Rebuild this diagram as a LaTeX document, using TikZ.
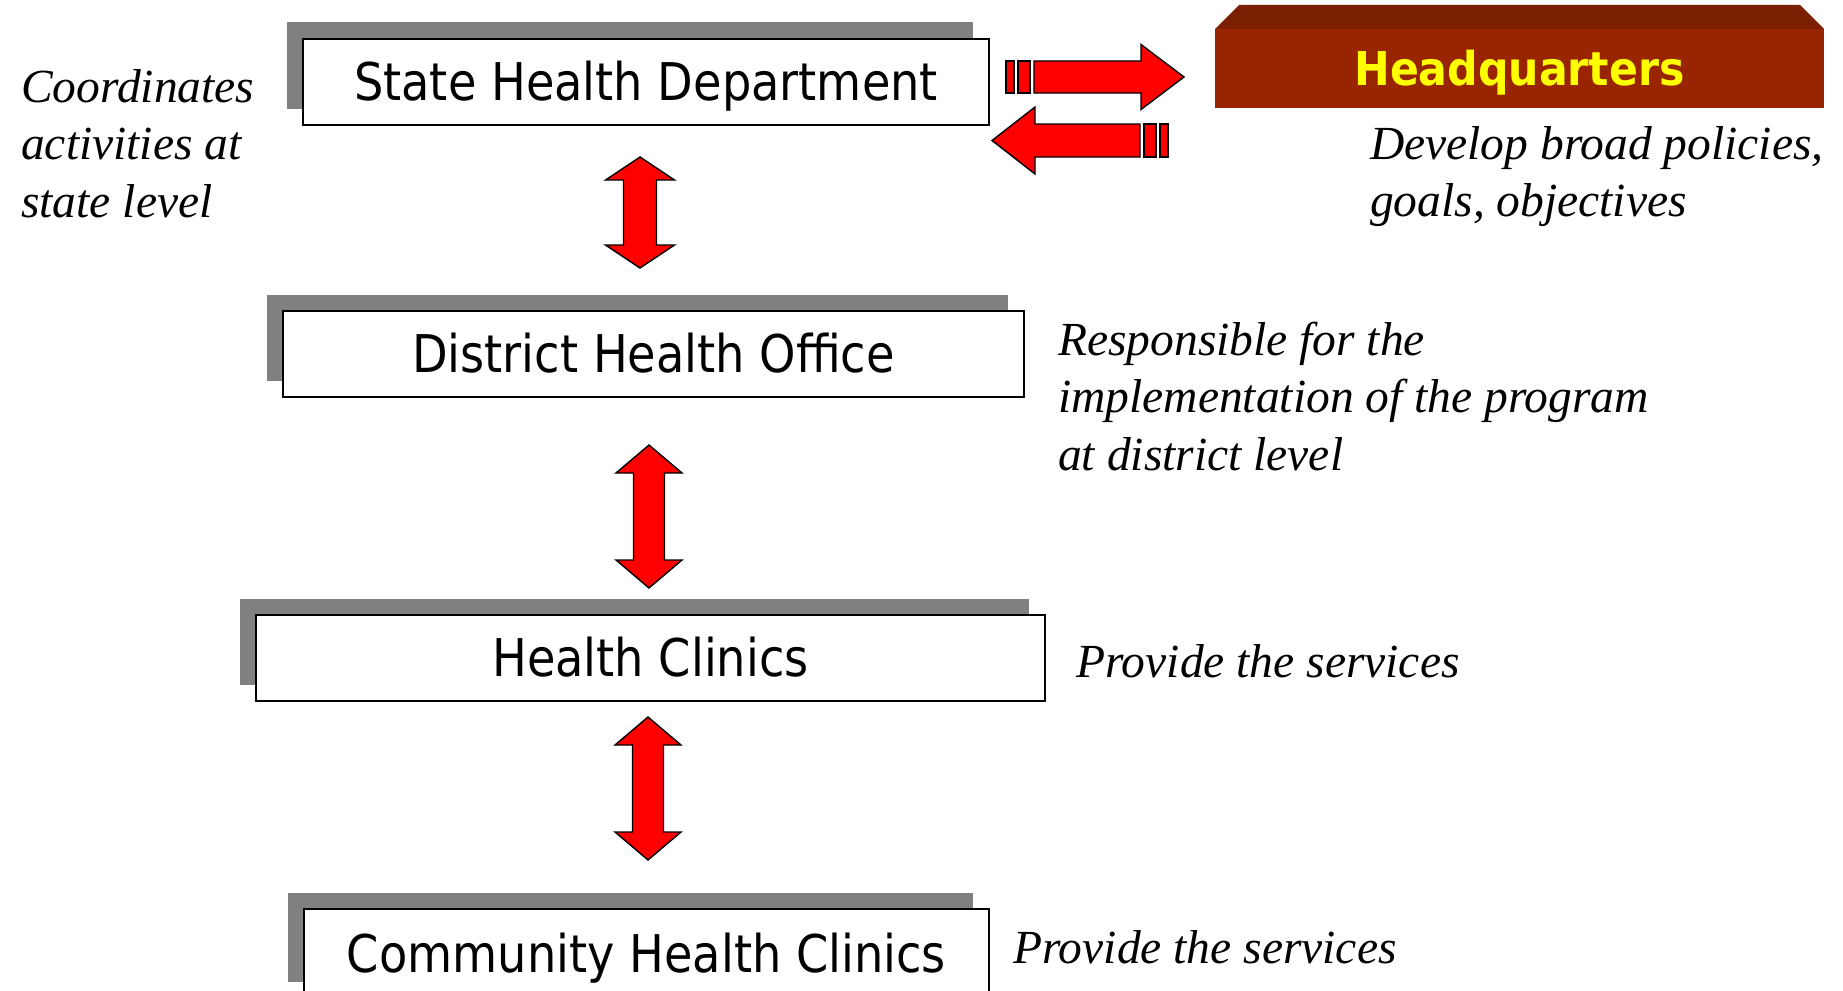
\documentclass[tikz,border=0pt]{standalone}
\usepackage{fontspec}
\setmainfont{Liberation Serif}
\newfontfamily\boxfont[FakeStretch=0.89]{DejaVu Sans}
\newfontfamily\hqfont[FakeStretch=0.915]{DejaVu Sans Bold}
\usetikzlibrary{calc,shadows}

\definecolor{shadowgray}{HTML}{808080}
\definecolor{hqfront}{HTML}{992400}
\definecolor{hqtop}{HTML}{7A1F00}
\definecolor{hqtext}{HTML}{FFFF00}

\tikzset{
  level/.style={draw=black, line width=1.6pt, fill=white, inner sep=0pt, outer sep=0pt,
    anchor=north west, font=\boxfont\fontsize{52}{60}\selectfont,
    text height=37.9pt, text depth=0pt,
    copy shadow={shadow xshift=-16.5pt, shadow yshift=16.5pt, fill=shadowgray, draw=none}},
  bigarrow/.style={fill=red, draw=black, line width=1.4pt, line join=miter},
  note/.style={font=\itshape\fontsize{47.5}{57.5}\selectfont, inner sep=0pt, anchor=base west},
  hqbox/.style={fill=hqfront, inner sep=0pt, outer sep=0pt, anchor=north west,
    font=\hqfont\fontsize{46.6}{50}\selectfont, text=hqtext, text height=34pt, text depth=0pt},
}

% vertical double-headed block arrow: top, bottom, head length, shaft half width, head half width
\newcommand\vbiarrow[5]{%
  \draw[bigarrow] (#1) -- ($(#1)+(#5,#3)$) -- ($(#1)+(#4,#3)$) -- ($(#2)+(#4,-#3)$)
    -- ($(#2)+(#5,-#3)$) -- (#2) -- ($(#2)+(-#5,-#3)$) -- ($(#2)+(-#4,-#3)$)
    -- ($(#1)+(-#4,#3)$) -- ($(#1)+(-#5,#3)$) -- cycle;}

% striped block arrow: tail, tip, direction (1 or -1), shaft half width, head half width
\newcommand\stripedarrow[5]{%
  \draw[bigarrow] ($(#1)+(0,-#4)$) rectangle ($(#1)+({(#3)*8},#4)$);
  \draw[bigarrow] ($(#1)+({(#3)*12},-#4)$) rectangle ($(#1)+({(#3)*24},#4)$);
  \draw[bigarrow] ($(#1)+({(#3)*28},-#4)$) -- ($(#2)+({-(#3)*43},-#4)$)
    -- ($(#2)+({-(#3)*43},-#5)$) -- (#2) -- ($(#2)+({-(#3)*43},#5)$)
    -- ($(#2)+({-(#3)*43},#4)$) -- ($(#1)+({(#3)*28},#4)$) -- cycle;}

\begin{document}
\begin{tikzpicture}[x=1pt, y=-1pt]
  \useasboundingbox (0,0) rectangle (1843,990);

  % hierarchy of offices
  \node[level, minimum width=686pt, minimum height=86pt] (state) at (303,39) {State Health Department};
  \node[level, minimum width=741pt, minimum height=86pt] (district) at (283,311) {District Health Office};
  \node[level, minimum width=789pt, minimum height=86pt] (clinics) at (256,615) {Health Clinics};
  \node[level, minimum width=685pt, minimum height=89pt] (community) at (304,909) {Community Health Clinics};

  % headquarters block with bevelled top
  \node[hqbox, minimum width=609pt, minimum height=79pt] (hq) at (1215,29) {Headquarters};
  \fill[hqtop] (hq.north west) -- ++(24,-24) -- ($(hq.north east)+(-24,-24)$) -- (hq.north east) -- cycle;

  % links between levels
  \coordinate (a1t) at (640,157);  \coordinate (a1b) at (640,268);
  \coordinate (a2t) at (649,445);  \coordinate (a2b) at (649,588);
  \coordinate (a3t) at (648,717);  \coordinate (a3b) at (648,860);
  \vbiarrow{a1t}{a1b}{23}{16.5}{34.5}
  \vbiarrow{a2t}{a2b}{28}{15.5}{33}
  \vbiarrow{a3t}{a3b}{28}{15.5}{33}

  % exchange with headquarters
  \coordinate (toHQtail) at (1006,77);     \coordinate (toHQtip) at (1184,77);
  \coordinate (fromHQtail) at (1168,140.5); \coordinate (fromHQtip) at (992,140.5);
  \stripedarrow{toHQtail}{toHQtip}{1}{16}{32.5}
  \stripedarrow{fromHQtail}{fromHQtip}{-1}{16.5}{33.5}

  % role descriptions
  \node[note] (stateRole) at (21,102) {\vtop{\hbox{Coordinates}\hbox{activities at}\hbox{state level}}};
  \node[note] (hqRole) at (1370,159) {\vtop{\hbox{Develop broad policies,}\hbox{goals, objectives}}};
  \node[note] (districtRole) at (1058,355)
    {\vtop{\hbox{Responsible for the}\hbox{implementation of the program}\hbox{at district level}}};
  \node[note] (clinicRole) at (1076,677) {Provide the services};
  \node[note] (communityRole) at (1013,963) {Provide the services};
\end{tikzpicture}
\end{document}
